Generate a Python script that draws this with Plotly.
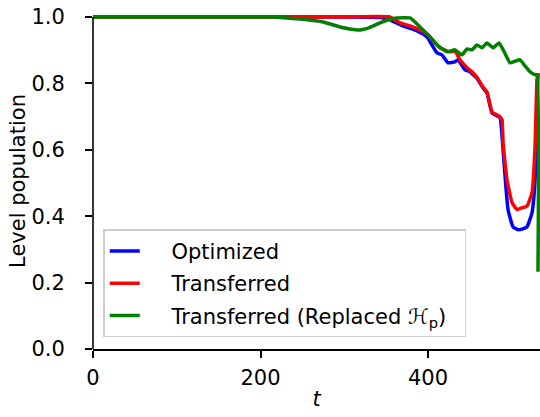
import plotly.graph_objects as go

# ---- data ----
t_opt = [0, 300, 345, 354.6, 370.1, 386.9, 398.8, 406.0, 410.7, 416.7, 423.9, 432.2, 435.8,
         444.2, 450.1, 458.5, 465.7, 470.4, 476.4, 482.4, 486.0, 489.6, 495.5, 501.5, 507.5,
         513.0, 518.2, 524.2, 527.8, 530.1, 531.3]
p_opt = [1.0, 1.0, 0.998, 0.991, 0.973, 0.958, 0.940, 0.910, 0.892, 0.886, 0.862, 0.865, 0.871,
         0.841, 0.835, 0.815, 0.786, 0.771, 0.711, 0.702, 0.697, 0.600, 0.420, 0.368, 0.359,
         0.362, 0.368, 0.411, 0.510, 0.750, 0.830]

t_tr = [0, 300, 354.6, 366.6, 378.5, 390.4, 400.0, 408.4, 414.3, 426.3, 432.2, 438.2, 446.6,
        452.5, 458.5, 465.7, 470.4, 476.4, 482.4, 486.0, 488.4, 489.6, 494.3, 500.3, 506.3,
        512.0, 518.2, 524.2, 527.8, 530.1, 531.3]
p_tr = [1.0, 1.0, 1.0, 0.982, 0.973, 0.961, 0.946, 0.922, 0.907, 0.895, 0.898, 0.871, 0.847,
        0.835, 0.818, 0.789, 0.774, 0.714, 0.705, 0.699, 0.690, 0.620, 0.510, 0.441, 0.420,
        0.425, 0.431, 0.471, 0.609, 0.811, 0.830]

t_rep = [0, 215, 231.6, 250, 274.6, 294.9, 306.9, 318.8, 330, 342.7, 354.6, 363.0, 378.5,
         390.4, 402.4, 410.7, 422.7, 432.2, 440.6, 446.6, 452.5, 458.5, 464.5, 470.4, 477.6,
         484.8, 491.0, 497.9, 503.0, 509.9, 515.0, 521.8, 527.8, 530.1, 531.3]
p_rep = [1.0, 1.0, 0.997, 0.993, 0.985, 0.970, 0.964, 0.961, 0.968, 0.982, 0.993, 0.997, 0.997,
         0.970, 0.940, 0.916, 0.895, 0.901, 0.886, 0.904, 0.901, 0.916, 0.907, 0.922, 0.907,
         0.922, 0.895, 0.862, 0.866, 0.871, 0.855, 0.835, 0.826, 0.826, 0.233]

names = ["Optimized", "Transferred", "Transferred (Replaced ℋ<sub>p</sub>)"]
colors = ["#0000ff", "#ff0000", "#008000"]
x_ticks = [0, 200, 400]
y_ticks = [0.0, 0.2, 0.4, 0.6, 0.8, 1.0]
y_tick_text = ["0.0", "0.2", "0.4", "0.6", "0.8", "1.0"]

FONT = "DejaVu Sans"
FS = 21
PAD = "\u00a0" * 4  # mimic matplotlib's longer legend handle spacing

fig = go.Figure()
for i, (tx, py) in enumerate([(t_opt, p_opt), (t_tr, p_tr), (t_rep, p_rep)]):
    fig.add_trace(go.Scatter(x=tx, y=py, mode="lines", name=PAD + names[i] + "\u00a0\u00a0",
                             legendgroup=f"g{i}",
                             line=dict(color=colors[i], width=3.5, shape="spline", smoothing=0.4)))

fig.update_layout(
    width=540, height=417,
    margin=dict(l=93, r=0, t=13, b=68),
    paper_bgcolor="white", plot_bgcolor="white",
    font=dict(family=FONT, size=FS, color="black"),
    showlegend=True,
    legend=dict(x=0.023, y=0.035, xanchor="left", yanchor="bottom",
                bgcolor="rgba(255,255,255,0.8)", bordercolor="#cccccc", borderwidth=1.5,
                font=dict(family=FONT, size=FS, color="black"),
                tracegroupgap=2),
    xaxis=dict(range=[0, 533.7], tickvals=x_ticks, ticks="outside", ticklen=7, tickwidth=1.6,
               tickcolor="black", showgrid=False, zeroline=False, showline=True,
               linecolor="black", linewidth=1.6, ticklabelstandoff=2,
               title=dict(text="<i>t</i>", font=dict(size=FS), standoff=2)),
    yaxis=dict(range=[0, 1.012], tickvals=y_ticks, ticktext=y_tick_text, ticks="outside",
               ticklen=7, tickwidth=1.6, tickcolor="black", showgrid=False, zeroline=False,
               showline=False, ticklabelstandoff=16,
               title=dict(text="Level population", font=dict(size=FS), standoff=0)),
    shapes=[dict(type="line", xref="paper", yref="y", x0=0, x1=0, y0=0, y1=1.0,
                 line=dict(color="black", width=1.6), layer="above")],
)

fig.write_html("out.html")
